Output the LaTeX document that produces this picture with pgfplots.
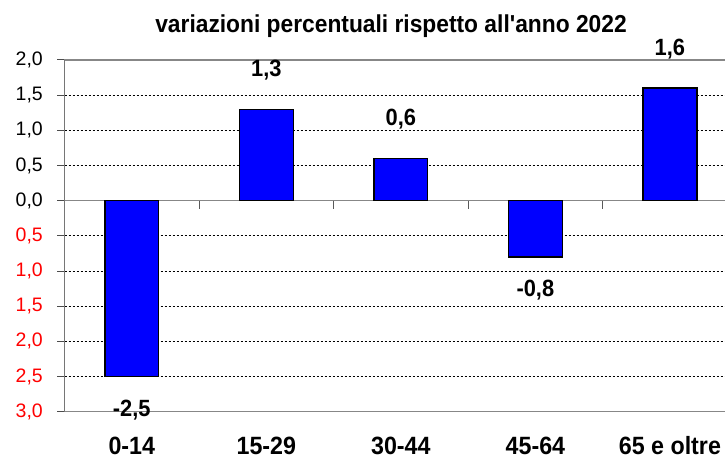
\documentclass[border=0pt]{standalone}
\usepackage{pgfplots}
\pgfplotsset{compat=1.18}
\usepackage{fontspec}
\setmainfont{Liberation Sans}
\newfontfamily\lib{Liberation Sans}
\newfontfamily\libn[FakeStretch=0.93]{Liberation Sans}
\definecolor{barblue}{RGB}{0,0,255}
\definecolor{axgray}{RGB}{135,135,135}
\definecolor{negred}{RGB}{255,0,0}
\begin{document}
\begin{tikzpicture}
\begin{axis}[
  at={(64.5pt,57.3pt)}, anchor=south west,
  scale only axis, width=672.7pt, height=351.7pt,
  xmin=-0.5, xmax=4.5, ymin=-3, ymax=2,
  axis line style={axgray, line width=1.4pt},
  xtick={0,1,2,3,4},
  xticklabels={0-14,15-29,30-44,45-64,65 e oltre},
  x tick style={draw=none},
  xticklabel style={font=\libn\fontsize{25}{29}\selectfont\bfseries, anchor=base, yshift=-36pt},
  ytick={-3,-2.5,-2,-1.5,-1,-0.5,0,0.5,1,1.5,2},
  yticklabels={{\color{negred}3,0},{\color{negred}2,5},{\color{negred}2,0},{\color{negred}1,5},{\color{negred}1,0},{\color{negred}0,5},{0,0},{0,5},{1,0},{1,5},{2,0}},
  y tick style={black!70, line width=1pt},
  major tick length=7pt,
  tick align=outside,
  ytick pos=left,
  ymajorgrids,
  major grid style={black, dash pattern=on 2pt off 2pt, line width=0.8pt},
  yticklabel style={font=\fontsize{19.5}{22}\selectfont, anchor=east, inner sep=0pt, xshift=-14.5pt},
]
\draw[axgray, line width=1.4pt] (axis cs:-0.5,0) -- (axis cs:4.5,0);
\draw[black!65, line width=1pt] (axis cs:0.5,0) -- ++(0pt,-8pt);
\draw[black!65, line width=1pt] (axis cs:1.5,0) -- ++(0pt,-8pt);
\draw[black!65, line width=1pt] (axis cs:2.5,0) -- ++(0pt,-8pt);
\draw[black!65, line width=1pt] (axis cs:3.5,0) -- ++(0pt,-8pt);
\addplot[ybar, bar width=0.4, fill=barblue, draw=black, line width=1.4pt]
  coordinates {(0,-2.5) (1,1.3) (2,0.6) (3,-0.8) (4,1.6)};
\addplot[draw=none, mark=none, nodes near coords, point meta=explicit symbolic,
  nodes near coords style={anchor=base, yshift=33pt, inner sep=0pt, font=\libn\fontsize{23.5}{27}\selectfont\bfseries}]
  coordinates {(1,1.3) [1,3] (2,0.6) [0,6] (4,1.6) [1,6]};
\addplot[draw=none, mark=none, nodes near coords, point meta=explicit symbolic,
  nodes near coords style={anchor=base, yshift=-40pt, inner sep=0pt, font=\libn\fontsize{23.5}{27}\selectfont\bfseries}]
  coordinates {(0,-2.5) [-2,5] (3,-0.8) [-0,8]};
\draw[black!65, line width=1.5pt] (rel axis cs:0,0) -- (rel axis cs:0,1);
\end{axis}
\node[anchor=base, font=\libn\fontsize{24.5}{28}\selectfont\bfseries] at (391pt,436pt) {variazioni percentuali rispetto all'anno 2022};
\pgfresetboundingbox
\path[use as bounding box] (0,0) rectangle (725pt,469pt);
\end{tikzpicture}
\end{document}
